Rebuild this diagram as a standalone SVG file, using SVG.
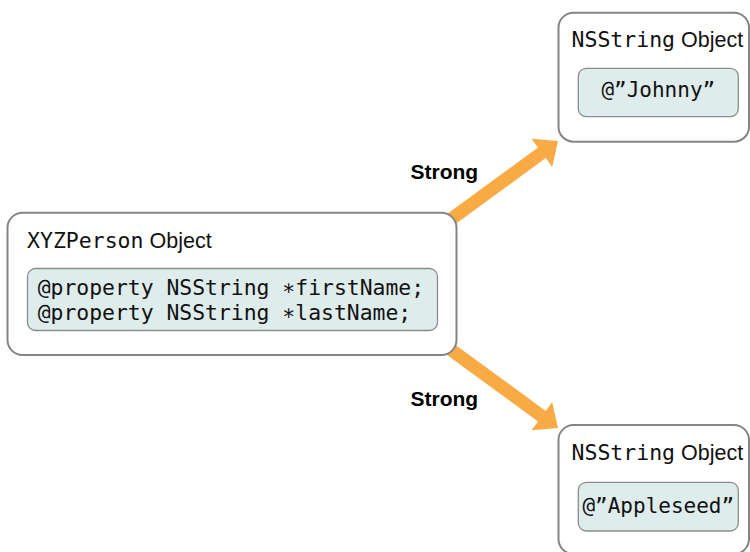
<svg xmlns="http://www.w3.org/2000/svg" width="750" height="552" viewBox="0 0 750 552">
  <style>
    .outer { fill: #ffffff; stroke: #858585; stroke-width: 2; }
    .inner { fill: #dfecec; stroke: #8c8c8c; stroke-width: 1.3; }
    .mono { font-family: "DejaVu Sans Mono", "Liberation Mono", monospace; fill: #111111; }
    .sans { font-family: "Liberation Sans", Arial, sans-serif; fill: #111111; }
    .title { font-size: 21.5px; }
    .code { font-size: 21px; }
    .prop { font-size: 21.4px; }
    .label { font-family: "Liberation Sans", Arial, sans-serif; font-weight: bold; font-size: 21px; fill: #000000; }
    .arrow { fill: #f8ab45; stroke: none; }
  </style>
  <rect width="750" height="552" fill="#ffffff"/>
  <g id="connectors">
    <g id="edge-firstName">
      <polygon class="arrow" points="443.84,232.55 545.70,158.06 552.19,166.93 558,141 531.53,138.69 538.02,147.56 436.16,222.05"/>
      <text class="label" x="410.5" y="179.3">Strong</text>
    </g>
    <g id="edge-lastName">
      <polygon class="arrow" points="443.84,336.45 545.70,410.94 552.19,402.07 558,428 531.53,430.31 538.02,421.44 436.16,346.95"/>
      <text class="label" x="410.5" y="406">Strong</text>
    </g>
  </g>
  <g id="node-person">
    <rect class="outer" x="7.5" y="212.7" width="449" height="142.3" rx="15"/>
    <text class="title" x="27" y="247.8"><tspan class="mono">XYZPerson</tspan><tspan class="sans"> Object</tspan></text>
    <rect class="inner" x="27.5" y="268.5" width="410" height="62" rx="8"/>
    <text class="mono prop" x="37.7" y="294.5">@property NSString ∗firstName;</text>
    <text class="mono prop" x="37.7" y="320">@property NSString ∗lastName;</text>
  </g>
  <g id="node-johnny">
    <rect class="outer" x="558.5" y="12.7" width="190.5" height="129" rx="15"/>
    <text class="title" x="571.5" y="46.5"><tspan class="mono">NSString</tspan><tspan class="sans"> Object</tspan></text>
    <rect class="inner" x="578.3" y="68.3" width="160" height="48.4" rx="8"/>
    <text class="mono code" x="658.3" y="97.3" text-anchor="middle">@”Johnny”</text>
  </g>
  <g id="node-appleseed">
    <rect class="outer" x="558.5" y="425" width="190.5" height="129" rx="15"/>
    <text class="title" x="571.5" y="459.5"><tspan class="mono">NSString</tspan><tspan class="sans"> Object</tspan></text>
    <rect class="inner" x="578.3" y="482.3" width="160" height="48.7" rx="8"/>
    <text class="mono code" x="658.3" y="513.3" text-anchor="middle">@”Appleseed”</text>
  </g>
</svg>
